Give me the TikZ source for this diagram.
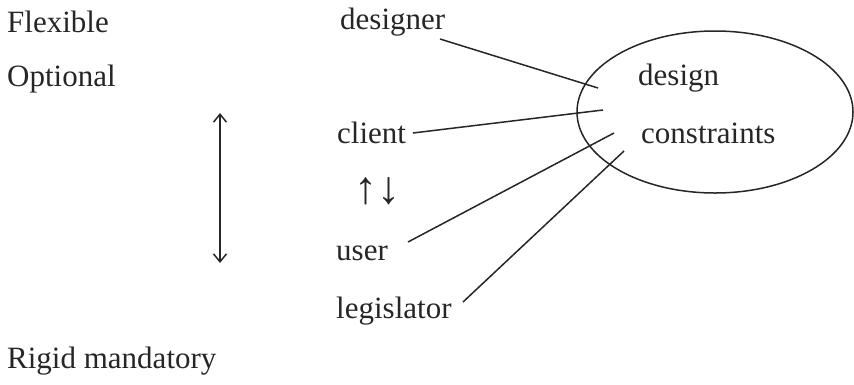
\documentclass[tikz,border=0pt]{standalone}
\usepackage{fontspec}
\setmainfont{Liberation Serif}
\usetikzlibrary{shapes.geometric,arrows.meta}
\begin{document}
\begin{tikzpicture}[x=1pt,y=-1pt,
  lbl/.style={anchor=base west, inner sep=0pt, text=black!85,
              font=\fontsize{31}{31}\selectfont},
  ln/.style={line width=1.5pt, draw=black!85},
  barb/.style={line width=1.5pt, draw=black!85,
               {Straight Barb[length=8pt,width=13pt]}-{Straight Barb[length=8pt,width=13pt]}}]
\useasboundingbox (0,0) rectangle (854,384);

% scale labels on the left
\node[lbl] (flex) at (7,32) {Flexible};
\node[lbl] (opt)  at (7,86) {Optional};
\node[lbl] (rigid) at (7,368) {Rigid mandatory};
\coordinate (scTop) at (220,113);
\coordinate (scBot) at (220,263);
\draw[barb] (scTop) -- (scBot);

% parties
\node[lbl] (designer) at (340,29) {designer};
\node[lbl] (client) at (337,143) {client};
\node[lbl, font=\fontsize{46}{46}\selectfont] (swap) at (354,203) {↑↓};
\node[lbl] (user) at (336,260) {user};
\node[lbl] (legis) at (336,318) {legislator};

% constraints ellipse
\node[ellipse, ln, minimum width=276pt, minimum height=162pt, inner sep=0pt] (dc) at (715,112) {};
\node[lbl] (design) at (638,85) {design};
\node[lbl] (constr) at (641,143) {constraints};

% connectors
\coordinate (dS) at (440,39);  \coordinate (dE) at (598,88);
\coordinate (cS) at (413,133); \coordinate (cE) at (603,110);
\coordinate (uS) at (408,242); \coordinate (uE) at (614,133);
\coordinate (lS) at (463,302); \coordinate (lE) at (624,151);
\draw[ln] (dS) -- (dE);
\draw[ln] (cS) -- (cE);
\draw[ln] (uS) -- (uE);
\draw[ln] (lS) -- (lE);
\end{tikzpicture}
\end{document}
